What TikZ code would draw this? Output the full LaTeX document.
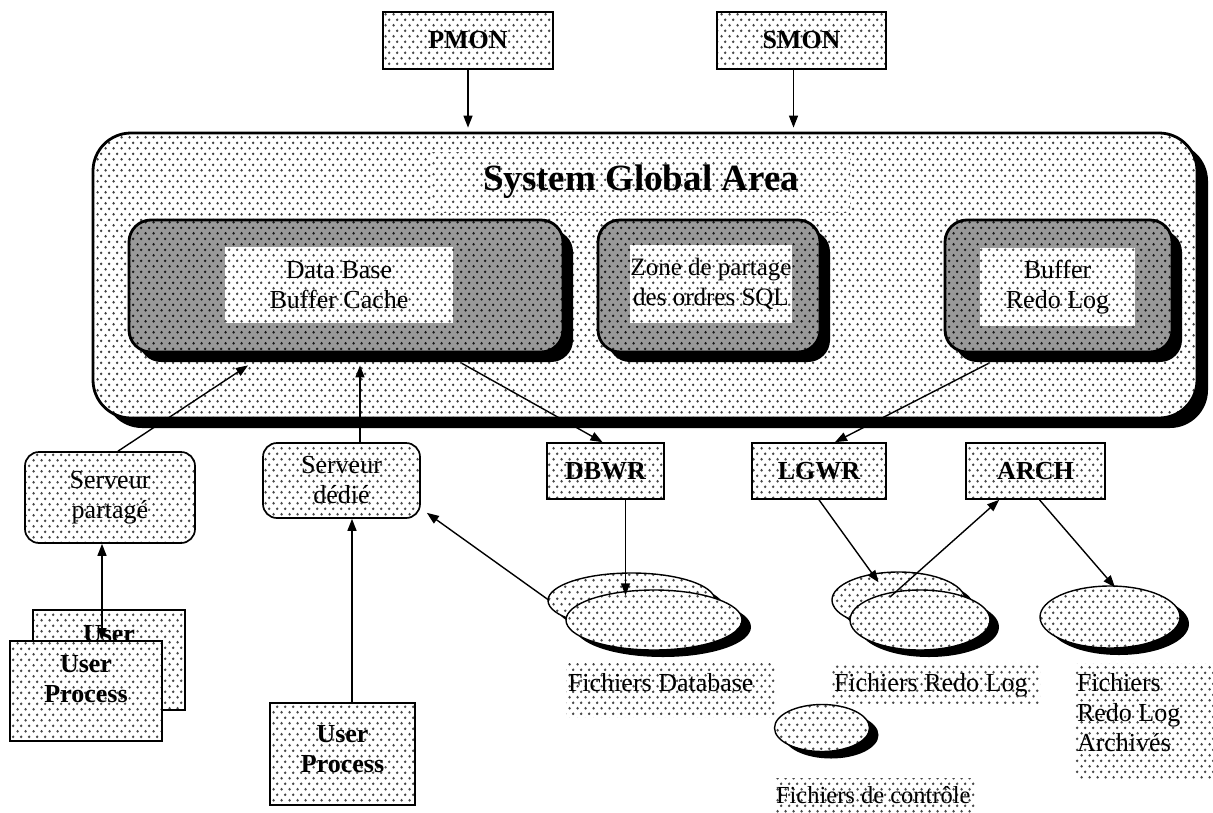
\documentclass[tikz,border=0pt]{standalone}
\usepackage{fontspec}
\setmainfont{Liberation Serif}
\usetikzlibrary{arrows.meta,shapes.geometric,shadows,patterns,calc}

% staggered dot screen used as fill
\pgfdeclarepatternformonly{screendots}{\pgfqpoint{0pt}{0pt}}{\pgfqpoint{8pt}{11.4pt}}{\pgfqpoint{8pt}{11.4pt}}%
  {\pgfpathcircle{\pgfqpoint{1.8pt}{1.8pt}}{1.5pt}\pgfusepath{fill}%
   \pgfpathcircle{\pgfqpoint{5.8pt}{7.5pt}}{1.5pt}\pgfusepath{fill}}

% box of fixed size with its text set from the top
\newcommand{\topbox}[5]{\parbox[c][#2][t]{#1}{#3\rule{0pt}{#4}#5}}

\tikzset{
  txt/.style={font=\fontsize{26}{30}\selectfont},
  btxt/.style={font=\fontsize{26}{30}\selectfont\bfseries},
  speckle/.style={preaction={fill=white}, pattern=screendots, pattern color=black!72},
  sgabox/.style={rectangle, rounded corners=38pt, line width=2.8pt, draw,
    drop shadow={shadow xshift=11pt, shadow yshift=-10pt, fill=black, opacity=1},
    preaction={fill=white}, pattern=screendots, pattern color=black!75, inner sep=0},
  membox/.style={rectangle, rounded corners=22pt, line width=2.8pt, draw,
    drop shadow={shadow xshift=10pt, shadow yshift=-10pt, fill=black, opacity=1},
    preaction={fill=black!40}, pattern=screendots, pattern color=black!90, inner sep=0},
  textbox/.style={rectangle, speckle, inner sep=0, align=center, txt},
  procbox/.style={rectangle, draw, line width=1.7pt, speckle, inner sep=0, align=center, btxt},
  srvbox/.style={rectangle, draw, line width=1.7pt, rounded corners=14pt, speckle, inner sep=0, align=center, txt},
  disk/.style={ellipse, inner sep=0,
    drop shadow={shadow xshift=9pt, shadow yshift=-7pt, fill=black, opacity=1},
    draw, line width=1.4pt, speckle},
  lbl/.style={rectangle, speckle, inner sep=0, txt},
  arr/.style={line width=1.4pt, -{Triangle[length=12pt,width=9pt]}},
  darr/.style={line width=1.4pt, {Triangle[length=12pt,width=9pt]}-{Triangle[length=12pt,width=9pt]}},
}

\begin{document}
\begin{tikzpicture}[x=1pt,y=-1pt]
\useasboundingbox (0,0) rectangle (1213,812);

% background processes above the SGA
\node[procbox, minimum width=170pt, minimum height=57pt] (pmon) at (468,40.5) {PMON};
\node[procbox, minimum width=169pt, minimum height=57pt] (smon) at (801.5,40.5) {SMON};

% System Global Area and its three memory structures
\node[sgabox, minimum width=1104pt, minimum height=285pt] (sga) at (645,275.5) {};
\node[textbox, minimum width=418pt, minimum height=60pt, font=\fontsize{37}{40}\selectfont\bfseries] (title) at (641,182) {System Global Area};

\node[membox, minimum width=434pt, minimum height=132pt] (buf) at (346,286) {};
\node[textbox, minimum width=228pt, minimum height=76pt] (buftxt) at (339,285) {Data Base\\Buffer Cache};

\node[membox, minimum width=222pt, minimum height=132pt] (shp) at (709,286) {};
\node[textbox, minimum width=160pt, minimum height=78pt, font=\fontsize{25}{30}\selectfont] (shptxt) at (711,284) {Zone de partage\\des ordres SQL};

\node[membox, minimum width=227pt, minimum height=132pt] (rlb) at (1058.5,286) {};
\node[textbox, minimum width=155pt, minimum height=78pt] (rlbtxt) at (1057.5,287) {Buffer\\Redo Log};

% server processes
\node[srvbox, minimum width=170pt, minimum height=91pt] (spt) at (110,497.5) {Serveur\\partagé};
\node[srvbox, minimum width=157pt, minimum height=75pt] (sded) at (341.5,480.5) {Serveur\\dédié};

% writer and archiver processes
\node[procbox, minimum width=117pt, minimum height=56pt] (dbwr) at (605.5,471) {DBWR};
\node[procbox, minimum width=134pt, minimum height=56pt] (lgwr) at (819,471) {LGWR};
\node[procbox, minimum width=139pt, minimum height=56pt] (arch) at (1035.5,471) {ARCH};

% user processes
\node[procbox] (upb) at (109,660) {\topbox{152pt}{100pt}{\centering}{32pt}{User}};
\node[procbox] (upf) at (86,691) {\topbox{152pt}{100pt}{\centering}{31pt}{User\\Process}};
\node[procbox] (up2) at (342.5,754) {\topbox{145pt}{102pt}{\centering}{39pt}{User\\Process}};

% files on disk
\node[disk, minimum width=167pt, minimum height=55pt] (dbb) at (631.5,600.5) {};
\node[disk, minimum width=176pt, minimum height=60pt] (dbf) at (654,620) {};
\node[disk, minimum width=133pt, minimum height=56pt] (rdb) at (898.5,600) {};
\node[disk, minimum width=140pt, minimum height=60pt] (rdf) at (920,620) {};
\node[disk, minimum width=140pt, minimum height=62pt] (arc) at (1110,617) {};
\node[disk, minimum width=95pt, minimum height=47pt] (ctl) at (822,728) {};

% file captions
\node[lbl] (fdb) at (670.5,690) {\topbox{209pt}{54pt}{\raggedright\leftskip=2pt\relax}{28pt}{\mbox{Fichiers Database}}};
\node[lbl] (frl) at (936,683) {\topbox{208pt}{40pt}{\raggedright\leftskip=2pt\relax}{28pt}{\mbox{Fichiers Redo Log}}};
\node[lbl] (far) at (1144,720.5) {\topbox{138pt}{115pt}{\raggedright\leftskip=2pt\relax}{28pt}{Fichiers\\Redo Log\\Archivés}};
\node[lbl, font=\fontsize{24.5}{30}\selectfont] (fct) at (875,795) {\topbox{200pt}{34pt}{\raggedright\leftskip=1pt\relax}{25pt}{\mbox{Fichiers de contrôle}}};

% connectors
\draw[arr] (pmon.south) -- ([yshift=4pt]pmon.south |- sga.north);
\draw[arr] ([xshift=-8pt]smon.south) -- ([xshift=-8pt,yshift=4pt]smon.south |- sga.north);
\draw[arr] ([xshift=8pt]spt.north) -- ([xshift=-98pt,yshift=-12pt]buf.south);
\draw[arr] ([xshift=18.5pt]sded.north) -- ([xshift=14pt,yshift=-12pt]buf.south);
\draw[arr] ([xshift=116pt,yshift=-10pt]buf.south) -- ([xshift=-3pt]dbwr.north);
\draw[arr] ([xshift=-70pt,yshift=-10pt]rlb.south) -- ([xshift=16pt]lgwr.north);
\draw[arr] ([xshift=20pt]dbwr.south) -- ([xshift=-28.5pt,yshift=-6pt]dbf.north);
\draw[arr] ([xshift=2pt]dbb.west) -- ([xshift=6pt,yshift=6pt]sded.south east);
\draw[arr] (lgwr.south) -- ([xshift=-20pt,yshift=-11pt]rdb.north);
\draw[arr] ([xshift=-30pt,yshift=23pt]rdf.center) -- ([xshift=34pt]arch.south west);
\draw[arr] ([xshift=4pt]arch.south) -- ([xshift=5pt,yshift=-2pt]arc.north);
\draw[darr] ([xshift=-8pt]spt.south) -- ([xshift=16pt]upf.north);
\draw[arr] ([xshift=9.5pt]up2.north) -- ([xshift=10.5pt]sded.south);
\end{tikzpicture}
\end{document}
